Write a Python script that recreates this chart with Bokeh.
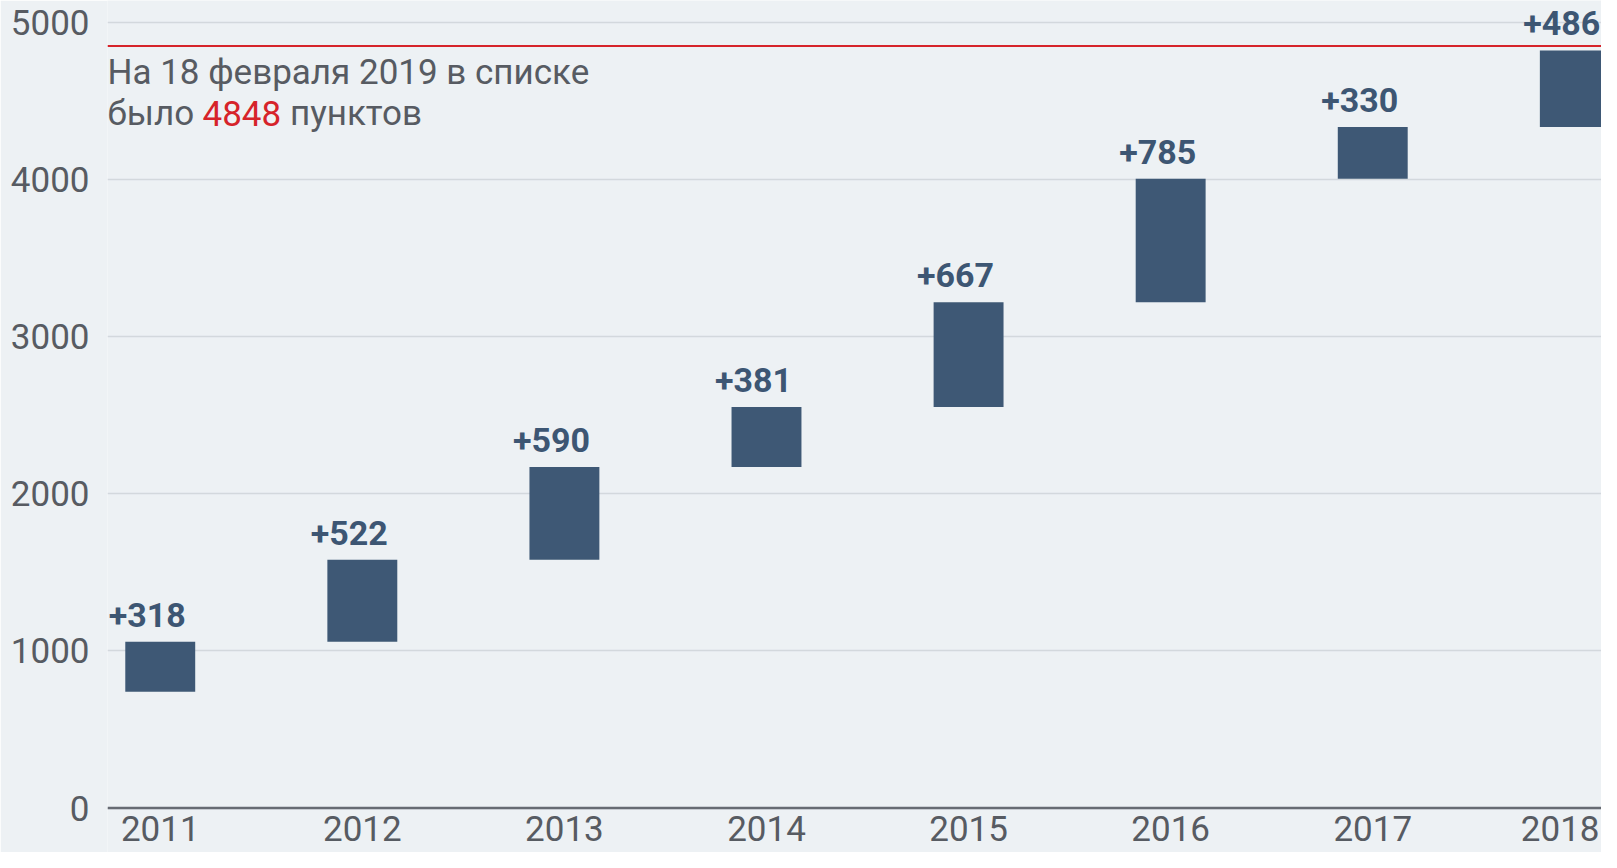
from bokeh.plotting import figure
from bokeh.models import Range1d, FixedTicker, Span, ColumnDataSource
from bokeh.core.properties import value
from bokeh.embed import file_html
from bokeh.resources import INLINE
import numpy as np

# ---- data ----
years = [2011, 2012, 2013, 2014, 2015, 2016, 2017, 2018]
increments = [318, 522, 590, 381, 667, 785, 330, 486]
start_base = 740
total_points = 4848
y_ticks = [0, 1000, 2000, 3000, 4000, 5000]
note_line1 = "На 18 февраля 2019 в списке"
note_line2_a = "было"
note_line2_b = "4848"
note_line2_c = "пунктов"

# ---- derived ----
tops = start_base + np.cumsum(increments)
bottoms = tops - np.array(increments)
xs = list(range(len(years)))
src = ColumnDataSource(dict(
    x=xs, top=tops.tolist(), bottom=bottoms.tolist(),
    label=["+%d" % v for v in increments],
))
# year labels: all but the last centred; the last one right-aligned to stay on the canvas
src_years = ColumnDataSource(dict(x=xs[:-1], y=[0] * (len(years) - 1),
                                  year=[str(y) for y in years[:-1]]))

BG = "#edf1f4"
BAR = "#3e5875"
TXT = "#575b62"
RED = "#d6232a"
FONT = "Roboto"

p = figure(width=1601, height=852,
           x_range=Range1d(-0.261, 7.132), y_range=Range1d(-283, 5137),
           output_backend="svg", toolbar_location=None, x_axis_location=None,
           min_border_left=107, min_border_right=0, min_border_top=0, min_border_bottom=0)
p.background_fill_color = BG
p.border_fill_color = BG
p.outline_line_color = None

tick = FixedTicker(ticks=y_ticks)
p.yaxis.ticker = tick
p.ygrid.ticker = tick
p.ygrid.grid_line_color = "#d3d8dd"
p.ygrid.grid_line_width = 1.5
p.xgrid.visible = False
p.yaxis.axis_line_color = None
p.yaxis.major_tick_line_color = None
p.yaxis.minor_tick_line_color = None
p.yaxis.major_label_standoff = 12
p.yaxis.major_label_text_font = FONT
p.yaxis.major_label_text_font_size = "35px"
p.yaxis.major_label_text_color = TXT

p.vbar(x="x", bottom="bottom", top="top", width=0.346, source=src,
       fill_color=BAR, line_color=None)

p.text(x="x", y="top", text="label", source=src,
       text_font=value(FONT), text_font_style="bold", text_font_size="34px",
       text_color="#3d5673", text_align="center", text_baseline="alphabetic",
       x_offset=-13, y_offset=-27)

year_style = dict(text_font=value(FONT), text_font_size="35px", text_color=TXT,
                  text_baseline="alphabetic", y_offset=20)
p.text(x="x", y="y", text="year", source=src_years, text_align="center", **year_style)
p.text(x=[p.x_range.end], y=[0], text=[str(years[-1])], text_align="right",
       x_offset=-2, **year_style)

p.add_layout(Span(location=0, dimension="width", line_color="#676b73", line_width=2.5))
p.add_layout(Span(location=total_points, dimension="width", line_color=RED, line_width=2))

x0 = p.x_range.start
y1 = p.y_range.end
common = dict(text_font=value(FONT), text_font_size="35px",
              text_align="left", text_baseline="alphabetic")
p.text(x=[x0], y=[y1], text=[note_line1], text_color=TXT, y_offset=71.5, **common)
p.text(x=[x0], y=[y1], text=[note_line2_a], text_color=TXT, y_offset=112.7, **common)
p.text(x=[x0], y=[y1], text=[note_line2_b], text_color=RED, y_offset=112.7, x_offset=95, **common)
p.text(x=[x0], y=[y1], text=[note_line2_c], text_color=TXT, y_offset=112.7, x_offset=182.5, **common)

open("out.html", "w").write(file_html(p, INLINE))
